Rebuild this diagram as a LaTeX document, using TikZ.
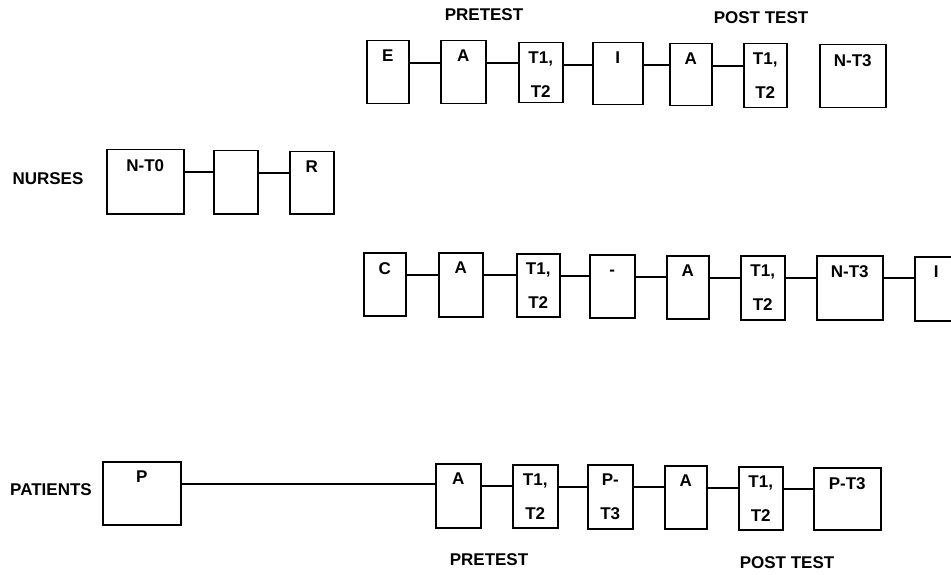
\documentclass[tikz,border=0pt]{standalone}
\usepackage{fontspec}
\setmainfont{Liberation Sans}
\tikzset{
    box/.style={draw, line width=1.5pt, anchor=north west, inner sep=0pt},
    lbl/.style={anchor=north, inner sep=0pt, yshift=-10pt, align=center, font=\fontsize{17}{20}\selectfont\bfseries},
    head/.style={inner sep=0pt, font=\fontsize{17}{20}\selectfont\bfseries},
    link/.style={line width=1.2pt}
}
\begin{document}
\begin{tikzpicture}[x=1pt,y=-1pt]
    \useasboundingbox (0,0) rectangle (951,575);
    \clip (0,0) rectangle (951,575);
    \node[head] (pre1) at (484,15) {PRETEST};
    \node[head] (post1) at (761,18) {POST TEST};
    \node[head] (nurses) at (48,179) {NURSES};
    \node[head] (patients) at (51,490) {PATIENTS};
    \node[head] (pre2) at (489,560) {PRETEST};
    \node[head] (post2) at (787,563) {POST TEST};
    % experimental group
    \node[box, minimum width=42, minimum height=63, label={[lbl]north:E}] (e1) at (366,40) {};
    \node[box, minimum width=45, minimum height=63, label={[lbl]north:A}] (a1) at (440,40) {};
    \node[box, minimum width=44, minimum height=60, label={[lbl]north:{T1,\\[14pt]T2}}] (t1) at (518,42) {};
    \node[box, minimum width=50, minimum height=62, label={[lbl]north:I}] (i1) at (592,42) {};
    \node[box, minimum width=42, minimum height=62, label={[lbl]north:A}] (a2) at (669,43) {};
    \node[box, minimum width=43, minimum height=64, label={[lbl]north:{T1,\\[14pt]T2}}] (t2) at (743,43) {};
    \node[box, minimum width=66, minimum height=63, label={[lbl]north:N-T3}] (nt1) at (819,44) {};
    % nurses
    \node[box, minimum width=77, minimum height=64, label={[lbl]north:N-T0}] (nt0) at (106,149) {};
    \node[box, minimum width=44, minimum height=63] (emp) at (213,150) {};
    \node[box, minimum width=44, minimum height=62, label={[lbl]north:R}] (r0) at (289,151) {};
    % control group
    \node[box, minimum width=42, minimum height=63, label={[lbl]north:C}] (c2) at (363,252) {};
    \node[box, minimum width=44, minimum height=64, label={[lbl]north:A}] (a3) at (438,252) {};
    \node[box, minimum width=43, minimum height=63, label={[lbl]north:{T1,\\[14pt]T2}}] (t3) at (516,253) {};
    \node[box, minimum width=45, minimum height=63, label={[lbl]north:{\vphantom{T}-}}] (d2) at (589,254) {};
    \node[box, minimum width=42, minimum height=63, label={[lbl]north:A}] (a4) at (666,255) {};
    \node[box, minimum width=44, minimum height=64, label={[lbl]north:{T1,\\[14pt]T2}}] (t4) at (740,255) {};
    \node[box, minimum width=66, minimum height=64, label={[lbl]north:N-T3}] (nt2) at (816,255) {};
    \node[box, minimum width=43, minimum height=64, label={[lbl]north:I}] (i2) at (914,256) {};
    % patients
    \node[box, minimum width=78, minimum height=63, label={[lbl]north:P}] (p0) at (102,461) {};
    \node[box, minimum width=45, minimum height=64, label={[lbl]north:A}] (a5) at (435,463) {};
    \node[box, minimum width=45, minimum height=63, label={[lbl]north:{T1,\\[14pt]T2}}] (t5) at (512,464) {};
    \node[box, minimum width=45, minimum height=64, label={[lbl]north:{P-\\[14pt]T3}}] (pt5) at (587,464) {};
    \node[box, minimum width=42, minimum height=63, label={[lbl]north:A}] (a6) at (664,465) {};
    \node[box, minimum width=44, minimum height=63, label={[lbl]north:{T1,\\[14pt]T2}}] (t6) at (738,466) {};
    \node[box, minimum width=67, minimum height=62, label={[lbl]north:P-T3}] (pt6) at (813,467) {};
    \foreach \a/\b in {e1/a1,a1/t1,t1/i1,i1/a2,a2/t2,nt0/emp,emp/r0,c2/a3,a3/t3,t3/d2,d2/a4,a4/t4,t4/nt2,nt2/i2,p0/a5,a5/t5,t5/pt5,pt5/a6,a6/t6,t6/pt6}
        \draw[link] ([yshift=-23pt]\a.north east) -- ([yshift=-23pt]\a.north east -| \b.west);
\end{tikzpicture}
\end{document}
